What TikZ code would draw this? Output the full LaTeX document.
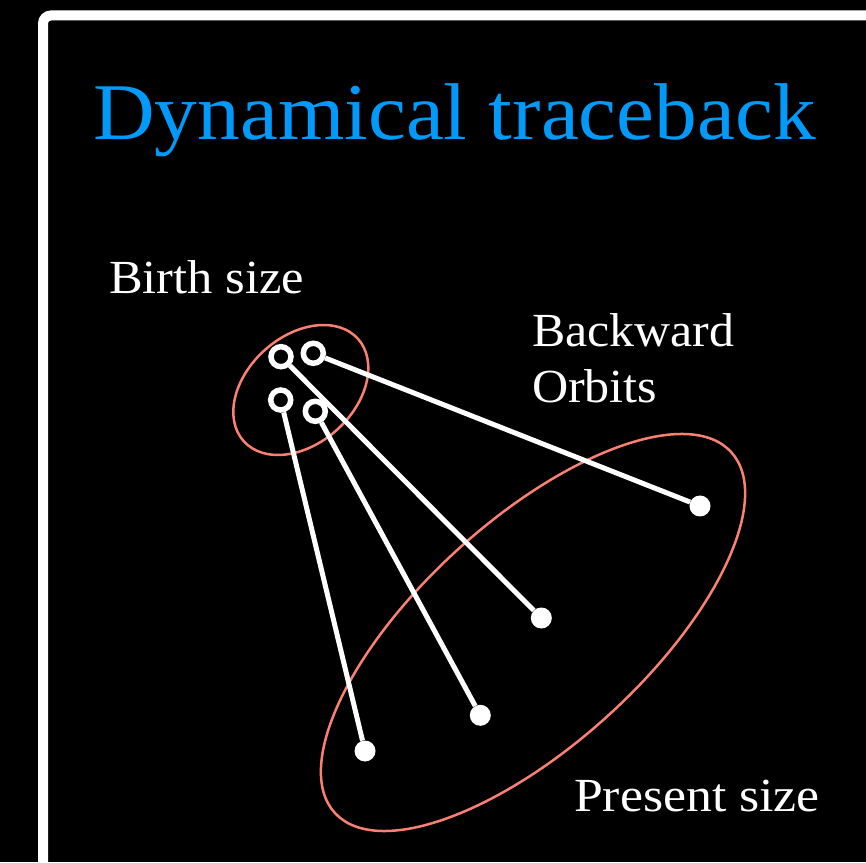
\documentclass[tikz,border=0pt]{standalone}
\usepackage{fontspec}
\setmainfont{Liberation Serif}
\usepackage{graphicx}
\definecolor{titleblue}{RGB}{0,155,250}
\definecolor{salmonline}{RGB}{250,128,114}
\begin{document}
\begin{tikzpicture}[x=1pt,y=1pt,
  lbl/.style={anchor=base west,inner sep=0pt,outer sep=0pt,text=white,font=\fontsize{47.5}{56}\selectfont},
  hollow/.style={circle,draw=white,fill=black,line width=5.5pt,minimum size=20pt,inner sep=0pt},
  solid dot/.style={circle,fill=white,minimum size=21pt,inner sep=0pt},
  orbit/.style={white,line width=5pt},
  sizering/.style={draw=salmonline,line width=2.5pt}]
\useasboundingbox (0,0) rectangle (866,862);
\fill[black] (0,0) rectangle (866,862);
\begin{scope}
\clip (0,0) rectangle (866,862);
\draw[white,line width=10pt,rounded corners=8pt] (43,-60) -- (43,846.5) -- (960,846.5);
\end{scope}
% titles and labels
\node[anchor=base west,inner sep=0pt,text=titleblue,font=\fontsize{80.5}{96}\selectfont] (title) at (93,722.7) {\scalebox{1.06}[1]{Dynamical traceback}};
\node[lbl] (birth) at (109,568) {\scalebox{1.063}[1]{Birth size}};
\node[lbl] (backward) at (532,515.3) {\scalebox{1.05}[1]{Backward}};
\node[lbl] (orbits) at (532,459) {\scalebox{1.055}[1]{Orbits}};
\node[lbl] (present) at (574,50.3) {\scalebox{1.09}[1]{Present size}};
% ellipses
\draw[sizering,rotate around={41.8:(300.8,472)}] (300.8,472) ellipse [x radius=76.7, y radius=53.8];
\draw[sizering,rotate around={42.3:(533,229.5)}] (533,229.5) ellipse [x radius=268, y radius=112];
% birth positions
\node[hollow] (b1) at (281,505.3) {};
\node[hollow] (b2) at (313.3,508.7) {};
\node[hollow] (b3) at (280.7,462) {};
\node[hollow] (b4) at (315.3,450.7) {};
% present positions
\node[solid dot] (p1) at (700,356) {};
\node[solid dot] (p2) at (541.3,244) {};
\node[solid dot] (p3) at (480.3,146.7) {};
\node[solid dot] (p4) at (365,111) {};
% orbits
\draw[orbit] (b1) -- (p2);
\draw[orbit] (b2) -- (p1);
\draw[orbit] (b3) -- (p4);
\draw[orbit] (b4) -- (p3);
\end{tikzpicture}
\end{document}
